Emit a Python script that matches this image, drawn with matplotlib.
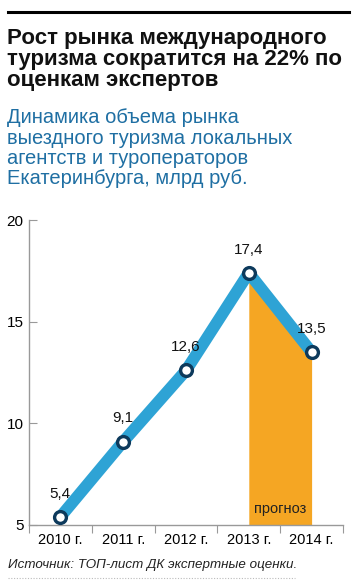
import matplotlib.pyplot as plt

plt.rcParams["font.family"] = ["Liberation Sans", "DejaVu Sans"]

years = ["2010 г.", "2011 г.", "2012 г.", "2013 г.", "2014 г."]
values = [5.4, 9.1, 12.6, 17.4, 13.5]
labels = ["5,4", "9,1", "12,6", "17,4", "13,5"]
forecast_from = 3  # 2013 -> 2014 is the forecast part

fig = plt.figure(figsize=(3.6, 5.88), dpi=100)

# header
fig.add_artist(plt.Line2D([8 / 360, 349 / 360], [1 - 12 / 588] * 2, color="black", lw=2.2))
fig.text(7 / 360, 1 - 28 / 588,
         "Рост рынка международного\nтуризма сократится на 22% по\nоценкам экспертов",
         ha="left", va="top", fontsize=16, fontweight="bold", color="#111111",
         linespacing=1.0)
fig.text(7 / 360, 1 - 108 / 588,
         "Динамика объема рынка\nвыездного туризма локальных\nагентств и туроператоров\nЕкатеринбурга, млрд руб.",
         ha="left", va="top", fontsize=14.5, color="#1f6fa3", linespacing=1.1)

ax = fig.add_axes([29 / 360, 1 - 525 / 588, 314 / 360, 305 / 588])
x = list(range(len(years)))

ax.fill_between(x[forecast_from:], values[forecast_from:], 5, color="#f5a623", lw=0, zorder=1)
ax.text(3.5, 5.45, "прогноз", ha="center", va="bottom", fontsize=10.5, color="#222222", zorder=2)

ax.plot(x, values, color="#2ea3d5", lw=8.5, solid_capstyle="butt", zorder=3)
ax.plot(x, values, ls="none", marker="o", ms=8.5, mfc="white", mec="#0d3a5c", mew=2.4, zorder=4)
for xi, v, s in zip(x, values, labels):
    ax.text(xi, v + 0.8, s, ha="center", va="bottom", fontsize=11, color="#111111", zorder=5)

ax.set_xlim(-0.5, 4.5)
ax.set_ylim(5, 20)
ax.set_yticks([5, 10, 15, 20])
ax.set_xticks([i + 0.5 for i in range(-1, 5)], minor=False)
ax.set_xticklabels([])
ax.set_xticks(x, minor=True)
ax.set_xticklabels(years, minor=True)
ax.tick_params(axis="x", which="major", length=6, color="#999999", direction="out")
ax.tick_params(axis="x", which="minor", length=0, labelsize=10.5, pad=6)
ax.tick_params(axis="y", length=6, direction="in", color="#999999", labelsize=11, pad=4)

for side in ["top", "right"]:
    ax.spines[side].set_visible(False)
for side in ["left", "bottom"]:
    ax.spines[side].set_color("#999999")
    ax.spines[side].set_linewidth(1)

# footer
fig.text(8 / 360, 1 - 565 / 588, "Источник: ТОП-лист ДК экспертные оценки.",
         ha="left", va="center", fontsize=9.6, style="italic", color="#222222")
fig.add_artist(plt.Line2D([8 / 360, 295 / 360], [1 - 578 / 588] * 2, color="#bbbbbb",
                          lw=0.8, ls=(0, (1, 1.5))))

fig.savefig("out.png", dpi=100)
